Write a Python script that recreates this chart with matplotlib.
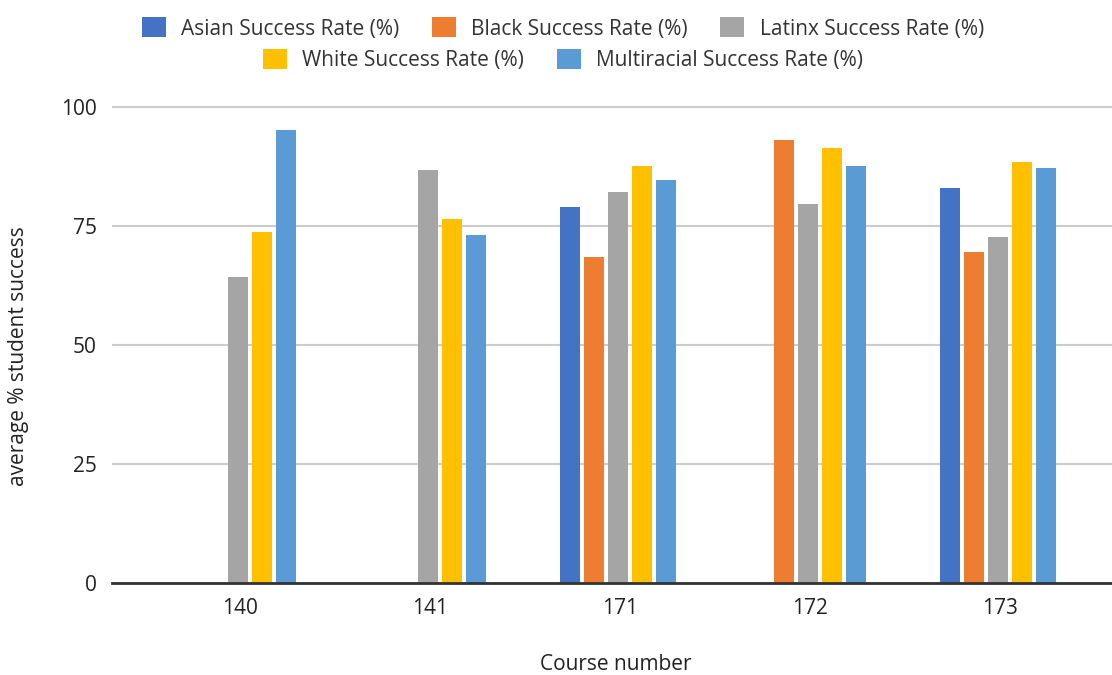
import numpy as np
import matplotlib.pyplot as plt

plt.rcParams['font.family'] = ['Open Sans', 'DejaVu Sans']

courses = ['140', '141', '171', '172', '173']
asian = [np.nan, np.nan, 78.9, np.nan, 83.0]
black = [np.nan, np.nan, 68.5, 93.0, 69.6]
latinx = [64.3, 86.7, 82.2, 79.7, 72.6]
white = [73.8, 76.4, 87.6, 91.3, 88.5]
multiracial = [95.1, 73.0, 84.7, 87.6, 87.1]

series = [
    ('Asian Success Rate (%)', asian, '#4472C4'),
    ('Black Success Rate (%)', black, '#ED7D31'),
    ('Latinx Success Rate (%)', latinx, '#A5A5A5'),
    ('White Success Rate (%)', white, '#FFC000'),
    ('Multiracial Success Rate (%)', multiracial, '#5B9BD5'),
]

fig = plt.figure(figsize=(11.12, 6.75), dpi=100)
ax = fig.add_axes([0.1007, 1 - 583 / 675, 1 - 0.1007, (583 - 102.2) / 675])

x = np.arange(len(courses))
step = 0.126
width = 0.105
handles = []
for i, (name, vals, color) in enumerate(series):
    h = ax.bar(x + (i - 2) * step - 0.01, vals, width, color=color, label=name, zorder=3)
    handles.append(h)

ax.set_xlim(-0.674, 4.59)
ax.set_ylim(0, 101)
ax.set_yticks([0, 25, 50, 75, 100])
ax.set_xticks(x)
ax.set_xticklabels(courses)
ax.grid(axis='y', color='#cccccc', linewidth=1.5, zorder=0)
for s in ['top', 'right', 'left']:
    ax.spines[s].set_visible(False)
ax.spines['bottom'].set_color('#333333')
ax.spines['bottom'].set_linewidth(2)
ax.spines['bottom'].set_zorder(4)
ax.tick_params(length=0, labelsize=15, colors='#222222')
ax.tick_params(axis='x', pad=11)
ax.tick_params(axis='y', pad=11)

fig.text(616 / 1112, 1 - 665 / 675, 'Course number', ha='center', va='center',
         fontsize=15, color='#222222')
fig.text(19 / 1112, 1 - 356 / 675, 'average % student success', ha='center',
         va='center', rotation=90, fontsize=15, color='#222222')

# two-row legend: three entries on top, two centered below
leg_kw = dict(frameon=False, fontsize=15, handlelength=1.15, handleheight=1.1,
              handletextpad=0.75, columnspacing=1.55, labelcolor='#333333')
leg1 = fig.legend(handles[:3], [s[0] for s in series[:3]], ncol=3,
                  loc='center', bbox_to_anchor=(563 / 1112, 1 - 28.5 / 675), **leg_kw)
leg2 = fig.legend(handles[3:], [s[0] for s in series[3:]], ncol=2,
                  loc='center', bbox_to_anchor=(563 / 1112, 1 - 60 / 675), **leg_kw)

fig.savefig('out.png', dpi=100)
